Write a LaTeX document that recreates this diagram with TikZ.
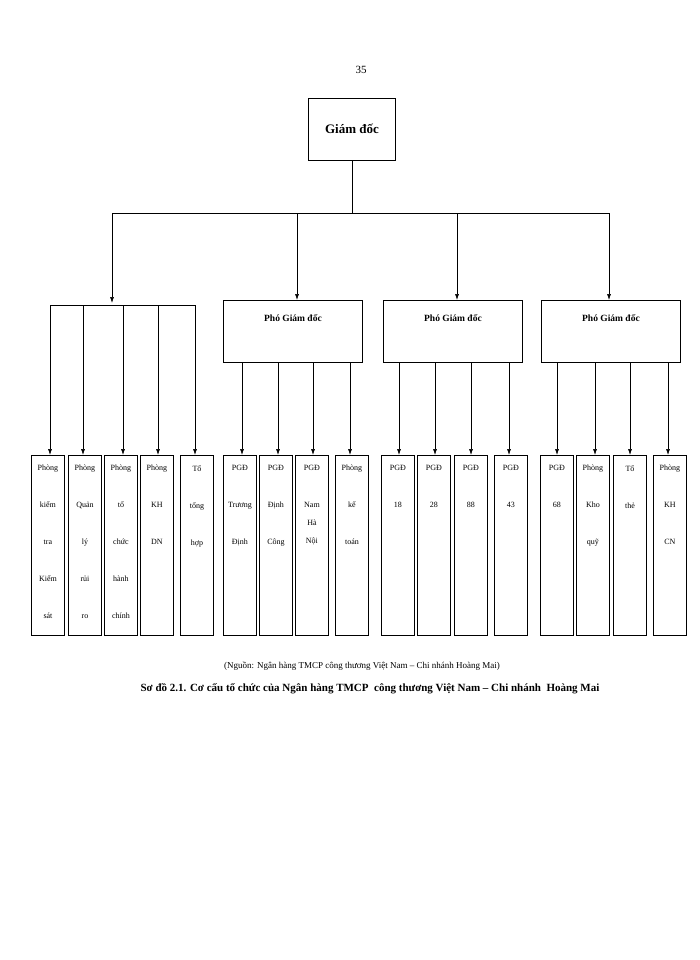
\documentclass[tikz,border=0pt]{standalone}
\usepackage{fontspec}
\setmainfont{Liberation Serif}
\usetikzlibrary{arrows.meta}
\begin{document}
\begin{tikzpicture}[x=1pt,y=-1pt,>={Latex[length=6pt,width=4pt]},
  box/.style={draw,line width=0.9pt,inner sep=0pt},
  cbox/.style={box,minimum width=33pt,minimum height=180pt,anchor=north west},
  ctext/.style={anchor=north,align=center,font=\fontsize{8}{37}\selectfont,inner sep=0pt},
  ln/.style={line width=0.6pt},
  arr/.style={ln,->}]
\useasboundingbox (0,0) rectangle (700,960);
\node at (361,70) {\fontsize{11}{12}\selectfont 35};
\node[box,minimum width=87pt,minimum height=62pt,font=\bfseries\fontsize{13}{14}\selectfont] (gd) at (352,129) {Giám đốc};
\coordinate (bus) at (352,213);
\node[box,minimum width=139pt,minimum height=62pt,anchor=north west] (p1) at (223,300) {};
\node[box,minimum width=139pt,minimum height=62pt,anchor=north west] (p2) at (383,300) {};
\node[box,minimum width=139pt,minimum height=62pt,anchor=north west] (p3) at (541,300) {};
\foreach \p in {p1,p2,p3}{\node[font=\bfseries\fontsize{9.5}{10}\selectfont] at ([yshift=-18pt]\p.north) {Phó Giám đốc};}
\coordinate (lb) at (112,303);
\coordinate (l0) at (50,305);
\coordinate (l1) at (195,305);
\draw[ln] (gd.south) -- (bus);
\draw[ln] (112,213) -- (609,213);
\draw[arr] (112,213) -- (lb);
\draw[arr] (297,213) -- (p1.north -| 297,0);
\draw[arr] (457,213) -- (p2.north -| 457,0);
\draw[arr] (609,213) -- (p3.north -| 609,0);
\draw[line width=1pt] (l0) -- (l1);
% children
\foreach \n/\x in {c1/31,c2/68,c3/104,c4/140,c5/180,c6/223,c7/259,c8/295,c9/335,c10/381,c11/417,c12/454,c13/494,c14/540,c15/576,c16/613,c17/653}{
  \node[cbox] (\n) at (\x,455) {};}
\foreach \n/\t in {c1/{Phòng\\kiểm\\tra\\Kiểm\\sát},c2/{Phòng\\Quản\\lý\\rủi\\ro},c3/{Phòng\\tổ\\chức\\hành\\chính},c4/{Phòng\\KH\\DN},c5/{Tổ\\tổng\\hợp},c6/{PGĐ\\Trương\\Định},c7/{PGĐ\\Định\\Công},c9/{Phòng\\kế\\toán},c10/{PGĐ\\18},c11/{PGĐ\\28},c12/{PGĐ\\88},c13/{PGĐ\\43},c14/{PGĐ\\68},c15/{Phòng\\Kho\\quỹ},c16/{Tổ\\thẻ},c17/{Phòng\\KH\\CN}}{
  \node[ctext] at ([yshift=-10pt]\n.north) {\t};}
\node[ctext,font=\fontsize{8}{18}\selectfont] at ([yshift=-10pt]c8.north) {PGĐ\\[19pt]Nam\\Hà\\Nội};
\foreach \n/\x in {c1/50,c2/83,c3/123,c4/158,c5/195}{\draw[arr] (\x,305) -- (\n.north -| \x,0);}
\foreach \n/\x in {c6/242,c7/278,c8/313,c9/350}{\draw[arr] (p1.south -| \x,0) -- (\n.north -| \x,0);}
\foreach \n/\x in {c10/399,c11/435,c12/471,c13/509}{\draw[arr] (p2.south -| \x,0) -- (\n.north -| \x,0);}
\foreach \n/\x in {c14/557,c15/595,c16/630,c17/668}{\draw[arr] (p3.south -| \x,0) -- (\n.north -| \x,0);}
\node[font=\fontsize{9}{10}\selectfont] (src) at (362,666) {(Nguồn: Ngân hàng TMCP công thương Việt Nam – Chi nhánh Hoàng Mai)};
\node[font=\bfseries\fontsize{11}{12}\selectfont] (cap) at (370,689) {Sơ đồ 2.1. Cơ cấu tổ chức của Ngân hàng TMCP\ \ công thương Việt Nam – Chi nhánh\ \ Hoàng Mai};
\end{tikzpicture}
\end{document}
